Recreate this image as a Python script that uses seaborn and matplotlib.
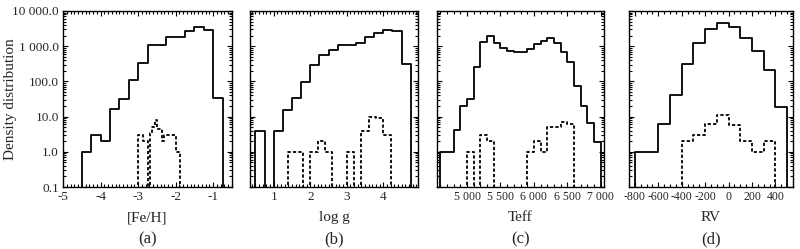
import matplotlib
matplotlib.use("Agg")

import matplotlib.pyplot as plt
import matplotlib.ticker as mticker
import numpy as np
import pandas as pd
import seaborn as sns


# -------------------------------------------------
# Data (bin start, bin width, counts)
# -------------------------------------------------

feh_all_start = -4.5
feh_all_width = 0.25
feh_all_counts = [1, 3, 2, 16, 32, 107, 334, 1100, 1050, 1800, 1800,
                  2700, 3400, 2870, 33.5]

feh_sel_start = -3.0
feh_sel_width = 0.0625
feh_sel_counts = [3, 3, 2, 2, 0, 3.5, 5, 8, 4.5, 4.5, 2, 3, 3, 3, 3, 3, 1, 1]

logg_all_start = 0.5
logg_all_width = 0.25
logg_all_counts = [4, 0, 4, 15.5, 33, 98, 293, 577, 803, 1050, 1116, 1245,
                   1807, 2351, 2866, 2690, 313]

logg_sel_start = 1.4
logg_sel_width = 0.2
logg_sel_counts = [1, 1, 0, 1, 2, 1, 0, 0, 1, 0, 4, 10, 9, 3]

teff_all_start = 4600
teff_all_width = 100
teff_all_counts = [1, 1, 4.2, 20, 32, 250, 1300, 1940, 1250, 900, 720, 705,
                   705, 840, 1170, 1450, 1660, 1200, 680, 350, 72, 20, 6.5,
                   1.9]

teff_sel_start = 5000
teff_sel_width = 100
teff_sel_counts = [1, 0, 3, 2, 0, 0, 0, 0, 0, 1, 2, 1, 5.2, 5.2, 7.2, 6.2]

rv_all_start = -800
rv_all_width = 100
rv_all_counts = [1, 1, 6, 42, 320, 1250, 3000, 4450, 3560, 1730, 720, 206,
                 18.5]

rv_sel_start = -400
rv_sel_width = 100
rv_sel_counts = [2, 3, 6, 11, 5.8, 2, 1, 2]

x_labels = ["[Fe/H]", "log g", "Teff", "RV"]
panel_tags = ["(a)", "(b)", "(c)", "(d)"]

x_ticks = [
    [-5, -4, -3, -2, -1],
    [1, 2, 3, 4],
    [5000, 5500, 6000, 6500, 7000],
    [-800, -600, -400, -200, 0, 200, 400],
]
x_tick_labels = [
    ["-5", "-4", "-3", "-2", "-1"],
    ["1", "2", "3", "4"],
    ["5 000", "5 500", "6 000", "6 500", "7 000"],
    ["-800", "-600", "-400", "-200", "0", "200", "400"],
]

y_ticks = [0.1, 1, 10, 100, 1000, 10000]
y_tick_labels = ["0.1", "1.0", "10.0", "100.0", "1 000.0", "10 000.0"]


# -------------------------------------------------
# Style
# -------------------------------------------------

sns.set_style("ticks")
plt.rcParams["font.family"] = ["Liberation Serif", "DejaVu Serif"]
plt.rcParams["xtick.direction"] = "in"
plt.rcParams["ytick.direction"] = "in"
plt.rcParams["axes.linewidth"] = 1.0


def draw_hist(ax, start, width, counts, style):
    """
    Draw one histogram outline from bin counts.
    """

    counts = np.concatenate([[0.0], np.asarray(counts, float), [0.0]])
    edges = start - width + width * np.arange(len(counts) + 1)
    hist_df = pd.DataFrame({
        "center": edges[:-1] + width / 2,
        "count": counts
    })

    sns.histplot(
        data=hist_df,
        x="center",
        weights="count",
        bins=list(edges),
        element="step",
        fill=False,
        color="black",
        linewidth=1.3,
        linestyle=style,
        ax=ax
    )


panels = [
    (feh_all_start, feh_all_width, feh_all_counts,
     feh_sel_start, feh_sel_width, feh_sel_counts),
    (logg_all_start, logg_all_width, logg_all_counts,
     logg_sel_start, logg_sel_width, logg_sel_counts),
    (teff_all_start, teff_all_width, teff_all_counts,
     teff_sel_start, teff_sel_width, teff_sel_counts),
    (rv_all_start, rv_all_width, rv_all_counts,
     rv_sel_start, rv_sel_width, rv_sel_counts),
]

x_limits = [(-5, -0.5), (0.35, 4.95), (4550, 7050), (-850, 550)]
x_minor = [0.1, 0.1, 100, 50]
x_tick_size = [9.5, 9.5, 8.5, 8.5]
axes_left_px = [63, 250, 437, 629]
axes_right_px = [232, 418, 604, 793]

fig = plt.figure(figsize=(8, 2.49), dpi=100)

for i, panel in enumerate(panels):
    left = axes_left_px[i] / 800
    width = (axes_right_px[i] - axes_left_px[i]) / 800
    ax = fig.add_axes([left, 62 / 249, width, 176 / 249])

    a_start, a_width, a_counts, s_start, s_width, s_counts = panel
    draw_hist(ax, a_start, a_width, a_counts, "-")
    draw_hist(ax, s_start, s_width, s_counts, (0, (1.8, 1.2)))

    ax.set_yscale("log")
    ax.set_ylim(0.1, 10000)
    ax.set_xlim(*x_limits[i])

    ax.set_xticks(x_ticks[i])
    ax.set_xticklabels(x_tick_labels[i], fontsize=x_tick_size[i])
    ax.xaxis.set_minor_locator(mticker.MultipleLocator(x_minor[i]))

    ax.yaxis.set_major_locator(mticker.FixedLocator(y_ticks))
    ax.yaxis.set_minor_locator(
        mticker.LogLocator(base=10, subs=np.arange(2, 10), numticks=20)
    )
    if i == 0:
        ax.set_yticklabels(y_tick_labels, fontsize=9.5)
        ax.set_ylabel("Density distribution", fontsize=11)
        ax.yaxis.set_label_coords(-0.31, 0.5)
        ax.yaxis.label.set_va("center")
    else:
        ax.set_yticklabels([])
        ax.set_ylabel("")
    ax.yaxis.set_minor_formatter(mticker.NullFormatter())

    ax.tick_params(which="both", top=True, right=True, direction="in",
                   width=0.8, pad=3, color="black")
    ax.tick_params(which="major", length=3.5)
    ax.tick_params(which="minor", length=2)

    for spine in ax.spines.values():
        spine.set_color("black")
        spine.set_visible(True)

    ax.set_xlabel(x_labels[i], fontsize=11)
    ax.xaxis.set_label_coords(0.5, -0.176)
    ax.xaxis.label.set_va("center")

    ax.text(0.5, -0.295, panel_tags[i], transform=ax.transAxes,
            ha="center", va="center", fontsize=12)

fig.savefig("out.png", dpi=100)
